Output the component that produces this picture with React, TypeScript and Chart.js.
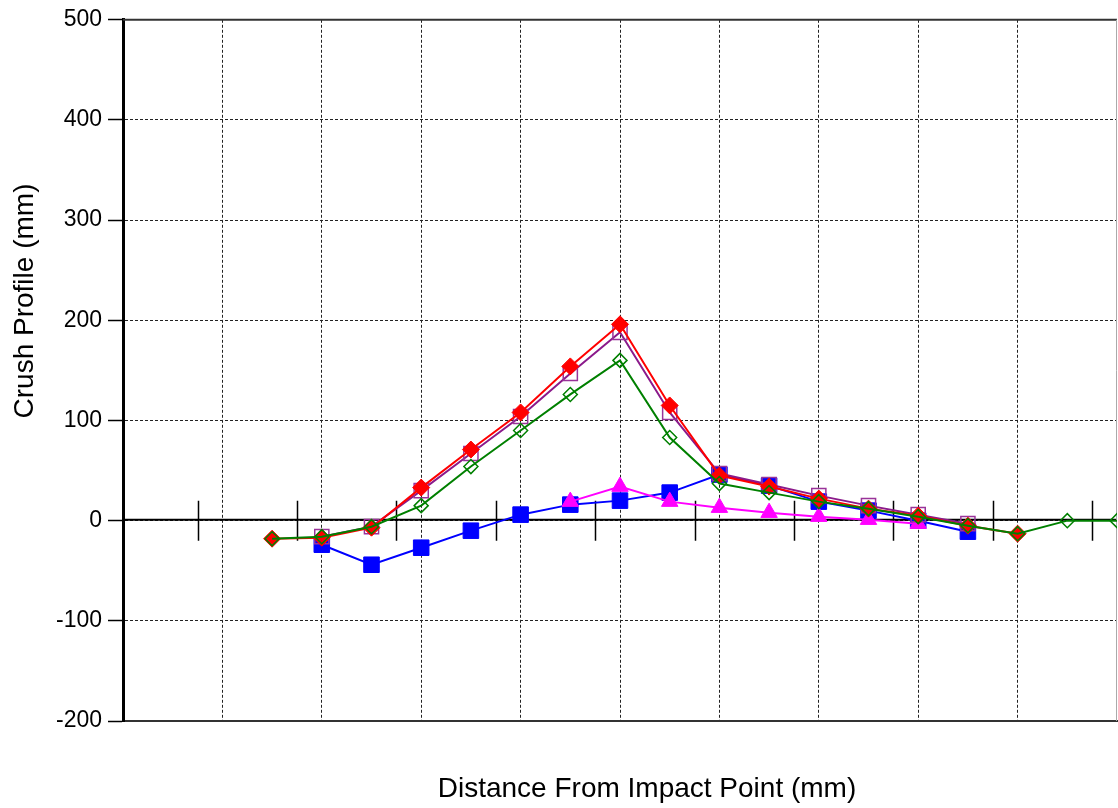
import React, { useEffect, useRef } from "react";
import { Chart, registerables } from "chart.js";

Chart.register(...registerables);

// Distance positions (x-axis units, no tick labels shown)
const X_POSITIONS = [150, 200, 250, 300, 350, 400, 450, 500, 550, 600, 650, 700, 750, 800, 850, 900, 950, 1000];

// Crush profile series (mm)
const SERIES_GREEN = [-18, -16, -6, 15, 54, 90, 126, 160, 83, 37, 28, 19, 12, 4, -5, -13, 0, 0];
const SERIES_RED = [-18, -17, -7, 33, 71, 108, 154, 196, 115, 45, 34, 22, 12, 5, -5, -13, null, null];
const SERIES_PURPLE = [null, -16, -6, 30, 67, 104, 147, 188, 108, 47, 36, 25, 15, 6, -3, null, null, null];
const SERIES_MAGENTA = [null, null, null, null, null, null, 19, 34, 19, 13, 8, 4, 1, -3, null, null, null, null];
const SERIES_BLUE = [null, -24, -44, -27, -10, 6, 16, 20, 28, 46, 35, 19, 10, 0, -11, null, null, null];

// Axis ticks
const Y_MIN = -200;
const Y_MAX = 500;
const Y_STEP = 100;
const X_MIN = 0;
const X_MAX = 1000;
const X_STEP = 100;
const ZERO_AXIS_TICKS = [75, 175, 275, 375, 475, 575, 675, 775, 875, 975];

const X_TITLE = "Distance From Impact Point (mm)";
const Y_TITLE = "Crush Profile (mm)";

const FONT_FAMILY = '"Liberation Sans", Arial, Helvetica, sans-serif';

function toPoints(values: (number | null)[]) {
  return X_POSITIONS.map((x, i) => ({ x, y: values[i] }));
}

const overlayPlugin = {
  id: "overlay",
  beforeDatasetsDraw(chart: any) {
    const { ctx, chartArea: a, scales } = chart;
    const xs = scales.x;
    const ys = scales.y;
    const y0 = ys.getPixelForValue(0);
    ctx.save();
    // zero axis line
    ctx.strokeStyle = "#000";
    ctx.lineWidth = 2;
    ctx.setLineDash([]);
    ctx.beginPath();
    ctx.moveTo(a.left, y0 - 1);
    ctx.lineTo(a.right, y0 - 1);
    ctx.stroke();
    // cross ticks on zero axis
    ctx.lineWidth = 1.5;
    ctx.beginPath();
    for (const v of ZERO_AXIS_TICKS) {
      const px = Math.round(xs.getPixelForValue(v)) + 0.5;
      ctx.moveTo(px, y0 - 20);
      ctx.lineTo(px, y0 + 20);
    }
    ctx.stroke();
    // top border
    ctx.strokeStyle = "#333";
    ctx.lineWidth = 2;
    ctx.beginPath();
    ctx.moveTo(a.left, a.top);
    ctx.lineTo(a.right, a.top);
    ctx.stroke();
    // right border
    ctx.strokeStyle = "#aaa";
    ctx.lineWidth = 1;
    ctx.beginPath();
    ctx.moveTo(a.right - 0.5, a.top);
    ctx.lineTo(a.right - 0.5, a.bottom);
    ctx.stroke();
    ctx.restore();
  },
  afterDraw(chart: any) {
    const { ctx } = chart;
    ctx.save();
    ctx.fillStyle = "#000";
    ctx.font = `28px ${FONT_FAMILY}`;
    ctx.textAlign = "center";
    ctx.textBaseline = "alphabetic";
    ctx.fillText(X_TITLE, 647, 797);
    ctx.translate(33, 301);
    ctx.rotate(-Math.PI / 2);
    ctx.fillText(Y_TITLE, 0, 0);
    ctx.restore();
  },
};

export default function App() {
  const canvasRef = useRef<HTMLCanvasElement | null>(null);

  useEffect(() => {
    document.body.style.margin = "0";
    const canvas = canvasRef.current;
    if (!canvas) return;

    const gridDash = [3, 2];

    const chart = new Chart(canvas, {
      type: "line",
      data: {
        datasets: [
          {
            label: "Green",
            data: toPoints(SERIES_GREEN),
            borderColor: "#008000",
            backgroundColor: "rgba(0,0,0,0)",
            borderWidth: 2,
            pointStyle: "rectRot",
            pointRadius: 7,
            pointBorderWidth: 1.5,
            pointBorderColor: "#008000",
            pointBackgroundColor: "rgba(0,0,0,0)",
          },
          {
            label: "Red",
            data: toPoints(SERIES_RED),
            borderColor: "#ff0000",
            backgroundColor: "#ff0000",
            borderWidth: 2,
            pointStyle: "rectRot",
            pointRadius: 8.5,
            pointBorderWidth: 1,
            pointBorderColor: "#ff0000",
            pointBackgroundColor: "#ff0000",
          },
          {
            label: "Purple",
            data: toPoints(SERIES_PURPLE),
            borderColor: "#8b1a8b",
            backgroundColor: "rgba(0,0,0,0)",
            borderWidth: 2,
            pointStyle: "rect",
            pointRadius: 10,
            pointBorderWidth: 1.5,
            pointBorderColor: "#993399",
            pointBackgroundColor: "rgba(0,0,0,0)",
          },
          {
            label: "Magenta",
            data: toPoints(SERIES_MAGENTA),
            borderColor: "#ff00ff",
            backgroundColor: "#ff00ff",
            borderWidth: 2,
            pointStyle: "triangle",
            pointRadius: 9.5,
            pointBorderWidth: 1,
            pointBorderColor: "#ff00ff",
            pointBackgroundColor: "#ff00ff",
          },
          {
            label: "Blue",
            data: toPoints(SERIES_BLUE),
            borderColor: "#0000ff",
            backgroundColor: "#0000ff",
            borderWidth: 2,
            pointStyle: "rect",
            pointRadius: 11,
            pointBorderWidth: 1,
            pointBorderColor: "#0000ff",
            pointBackgroundColor: "#0000ff",
          },
        ],
      },
      options: {
        animation: false,
        responsive: false,
        maintainAspectRatio: false,
        layout: { autoPadding: false, padding: { top: 16, right: 1, left: 0, bottom: 0 } },
        plugins: {
          legend: { display: false },
          tooltip: { enabled: false },
          title: { display: false },
        },
        elements: { line: { tension: 0 } },
        scales: {
          x: {
            type: "linear",
            min: X_MIN,
            max: X_MAX,
            ticks: { display: false, stepSize: X_STEP },
            grid: {
              drawTicks: false,
              lineWidth: 1,
              color: (ctx: any) => {
                const v = ctx.tick ? ctx.tick.value : null;
                if (v === X_MIN || v === X_MAX) return "rgba(0,0,0,0)";
                return "#222";
              },
            },
            border: { display: true, color: "#333", width: 2, dash: gridDash },
            afterFit: (scale: any) => {
              scale.height = 87;
            },
          },
          y: {
            type: "linear",
            min: Y_MIN,
            max: Y_MAX,
            ticks: {
              stepSize: Y_STEP,
              color: "#000",
              padding: 6,
              font: { family: FONT_FAMILY, size: 23 },
            },
            grid: {
              drawTicks: true,
              tickLength: 15,
              tickColor: "#000",
              tickWidth: 1.5,
              tickBorderDash: [],
              lineWidth: 1,
              color: (ctx: any) => {
                const v = ctx.tick ? ctx.tick.value : null;
                if (v === Y_MIN || v === Y_MAX) return "rgba(0,0,0,0)";
                return "#222";
              },
            },
            border: { display: true, color: "#000", width: 3, dash: gridDash },
            afterFit: (scale: any) => {
              scale.width = 123;
            },
          },
        },
      },
      plugins: [overlayPlugin],
    } as any);

    return () => {
      chart.destroy();
    };
  }, []);

  return (
    <div style={{ width: 1118, height: 808, background: "#fff" }}>
      <canvas ref={canvasRef} width={1118} height={808} style={{ display: "block" }} />
    </div>
  );
}
